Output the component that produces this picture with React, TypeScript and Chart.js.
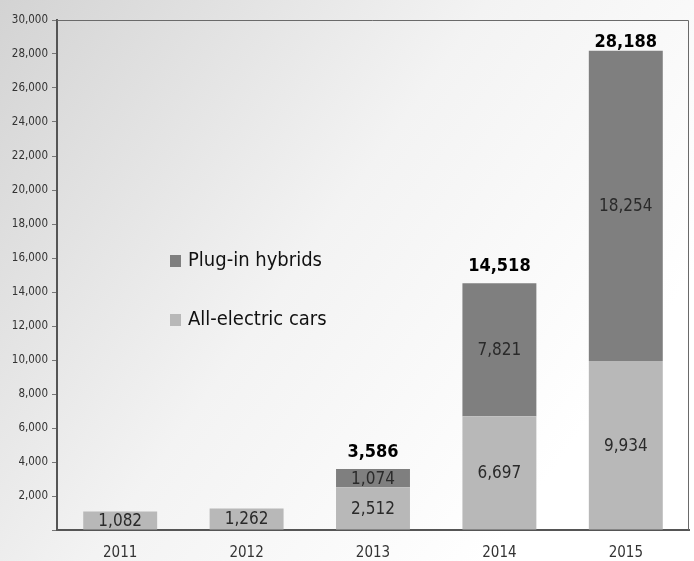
import React, { useEffect, useRef } from "react";
import { Chart, registerables } from "chart.js";

Chart.register(...registerables);

const years = ["2011", "2012", "2013", "2014", "2015"];
const allElectric = [1082, 1262, 2512, 6697, 9934];
const plugInHybrids = [0, 0, 1074, 7821, 18254];
const totalsShown = [null, null, 3586, 14518, 28188];
const yTicks = [0, 2000, 4000, 6000, 8000, 10000, 12000, 14000, 16000, 18000, 20000, 22000, 24000, 26000, 28000, 30000];

const FONT = "'Liberation Sans Narrow', 'DejaVu Sans Condensed', 'Liberation Sans', sans-serif";
const fmt = (v: number) => v.toLocaleString("en-US");

const bgPlugin = {
  id: "bg",
  beforeDraw(chart: any) {
    const { ctx, width, height } = chart;
    const g = ctx.createLinearGradient(0, 0, width * 0.85, height * 0.75);
    g.addColorStop(0, "#d3d3d3");
    g.addColorStop(0.55, "#f3f3f3");
    g.addColorStop(1, "#ffffff");
    ctx.save();
    ctx.fillStyle = g;
    ctx.fillRect(0, 0, width, height);
    ctx.restore();
  },
  afterDraw(chart: any) {
    const { ctx, chartArea: a } = chart;
    ctx.save();
    ctx.strokeStyle = "#6a6a6a";
    ctx.lineWidth = 1;
    ctx.beginPath();
    ctx.moveTo(a.left, a.top + 0.5);
    ctx.lineTo(a.right - 0.5, a.top + 0.5);
    ctx.lineTo(a.right - 0.5, a.bottom);
    ctx.stroke();
    ctx.restore();
  },
};

const labelPlugin = {
  id: "labels",
  afterDatasetsDraw(chart: any) {
    const { ctx } = chart;
    ctx.save();
    ctx.textAlign = "center";
    ctx.textBaseline = "middle";
    ctx.font = `17px ${FONT}`;
    ctx.fillStyle = "#2a2a2a";
    chart.data.datasets.forEach((ds: any, di: number) => {
      const meta = chart.getDatasetMeta(di);
      meta.data.forEach((bar: any, i: number) => {
        const v = ds.data[i];
        if (!v) return;
        const y = (bar.y + bar.base) / 2;
        ctx.fillText(fmt(v), bar.x, y + 1);
      });
    });
    ctx.font = `bold 18px ${FONT}`;
    ctx.fillStyle = "#000";
    ctx.textBaseline = "alphabetic";
    const yScale = chart.scales.y;
    const meta0 = chart.getDatasetMeta(0);
    totalsShown.forEach((t, i) => {
      if (t == null) return;
      const x = meta0.data[i].x;
      const top = yScale.getPixelForValue(t);
      ctx.fillText(fmt(t), x, Math.max(top - 12, 47));
    });
    // legend
    const items = [
      { label: "Plug-in hybrids", color: "#7f7f7f", y: 261 },
      { label: "All-electric cars", color: "#b8b8b8", y: 320 },
    ];
    ctx.textAlign = "left";
    ctx.textBaseline = "middle";
    ctx.font = `20px ${FONT}`;
    items.forEach((it) => {
      ctx.fillStyle = it.color;
      ctx.fillRect(170, it.y - 6, 11, 12);
      ctx.fillStyle = "#111";
      ctx.fillText(it.label, 188, it.y);
    });
    ctx.restore();
  },
};

export default function App() {
  const ref = useRef<HTMLCanvasElement>(null);
  useEffect(() => {
    const chart = new Chart(ref.current!, {
      type: "bar",
      data: {
        labels: years,
        datasets: [
          { label: "All-electric cars", data: allElectric, backgroundColor: "#b8b8b8", categoryPercentage: 1, barPercentage: 0.585 },
          { label: "Plug-in hybrids", data: plugInHybrids, backgroundColor: "#7f7f7f", categoryPercentage: 1, barPercentage: 0.585 },
        ],
      },
      options: {
        animation: false,
        responsive: false,
        layout: { padding: { top: 20, right: 5, left: 0, bottom: 0 } },
        plugins: { legend: { display: false }, tooltip: { enabled: false } },
        scales: {
          x: {
            stacked: true,
            grid: { display: false, drawTicks: false },
            border: { display: true, color: "#555", width: 2 },
            ticks: { color: "#333", font: { family: FONT, size: 15 }, padding: 14 },
            afterFit: (s: any) => { s.height = 31; },
          },
          y: {
            stacked: true,
            min: 0,
            max: 30000,
            afterBuildTicks: (s: any) => { s.ticks = yTicks.map((v) => ({ value: v })); },
            grid: { drawOnChartArea: false, drawTicks: true, tickLength: 5, color: "#777" },
            border: { display: true, color: "#555", width: 2 },
            ticks: {
              color: "#333",
              font: { family: FONT, size: 11.5 },
              padding: 4,
              callback: (v: any) => (v === 0 ? "" : fmt(Number(v))),
            },
            afterFit: (s: any) => { s.width = 57; },
          },
        },
      },
      plugins: [bgPlugin, labelPlugin],
    });
    return () => chart.destroy();
  }, []);
  return (
    <div style={{ position: "fixed", left: 0, top: 0, width: 694, height: 561 }}>
      <canvas ref={ref} width={694} height={561} style={{ width: 694, height: 561 }} />
    </div>
  );
}
